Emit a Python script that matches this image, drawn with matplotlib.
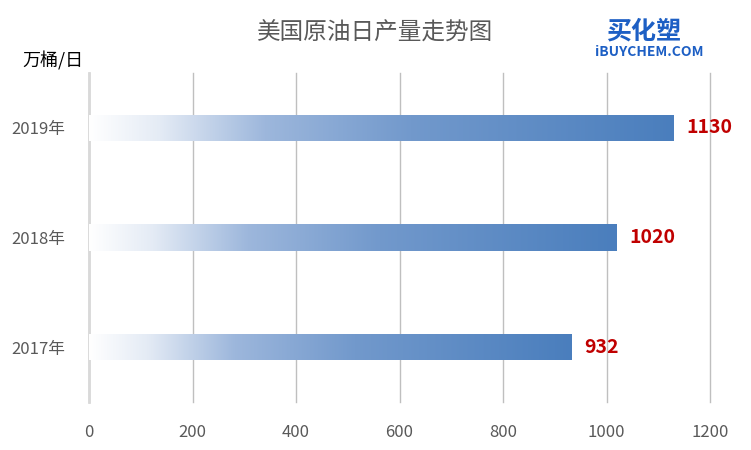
import numpy as np
import matplotlib
matplotlib.use('Agg')
from matplotlib import pyplot as plt
from matplotlib.colors import LinearSegmentedColormap

plt.rcParams['font.family'] = ['Noto Sans CJK SC', 'DejaVu Sans']

# 数据
years = ['2017年', '2018年', '2019年']
output = [932, 1020, 1130]
x_ticks = [0, 200, 400, 600, 800, 1000, 1200]

fig = plt.figure(figsize=(7.51, 4.5), dpi=100)
ax = fig.add_axes([0.1185, 0.107, 0.827, 0.731])

pos = np.arange(len(years))
bars = ax.barh(pos, output, height=0.24, color='none', edgecolor='none', zorder=3)

# 渐变填充：左白右蓝
cmap = LinearSegmentedColormap.from_list(
    'grad', [(0.0, '#ffffff'), (0.12, '#e4ebf5'), (0.3, '#9db7dc'),
             (0.55, '#7299cc'), (1.0, '#4a7ebd')])
grad = np.linspace(0, 1, 256).reshape(1, -1)
for b in bars:
    x0, y0 = b.get_x(), b.get_y()
    w, h = b.get_width(), b.get_height()
    im = ax.imshow(grad, cmap=cmap, aspect='auto', extent=[x0, x0 + w, y0, y0 + h],
                   zorder=3, interpolation='bicubic')
    im.set_clip_path(b)

for p, v in zip(pos, output):
    ax.text(v + 24, p, str(v), va='center', ha='left', fontsize=14,
            fontweight='bold', color='#c00000', zorder=4)

ax.set_xlim(0, 1200)
ax.set_ylim(-0.5, 2.5)
ax.set_xticks(x_ticks)
ax.set_yticks(pos)
ax.set_yticklabels(years)
ax.xaxis.grid(True, color='#bfbfbf', linewidth=1)
for gl in ax.get_xgridlines():
    gl.set_clip_on(False)
ax.set_axisbelow(True)
for s in ['top', 'right', 'bottom']:
    ax.spines[s].set_visible(False)
ax.spines['left'].set_color('#d9d9d9')
ax.spines['left'].set_linewidth(2)
ax.tick_params(axis='both', length=0, labelsize=12, labelcolor='#595959')
ax.tick_params(axis='x', pad=16)
ax.tick_params(axis='y', pad=17)

fig.text(0.5, 0.927, '美国原油日产量走势图', ha='center', va='center',
         fontsize=17, color='#595959')
fig.text(0.03, 0.865, '万桶/日', ha='left', va='center', fontsize=13, color='#000000')

# 标志
fig.text(0.857, 0.93, '买化塑', ha='center', va='center', fontsize=18,
         fontweight='bold', style='italic', color='#1d5fc4')
fig.text(0.865, 0.884, 'iBUYCHEM.COM', ha='center', va='center', fontsize=10,
         fontweight='bold', style='italic', color='#1d5fc4')

fig.savefig('out.png', dpi=100)
